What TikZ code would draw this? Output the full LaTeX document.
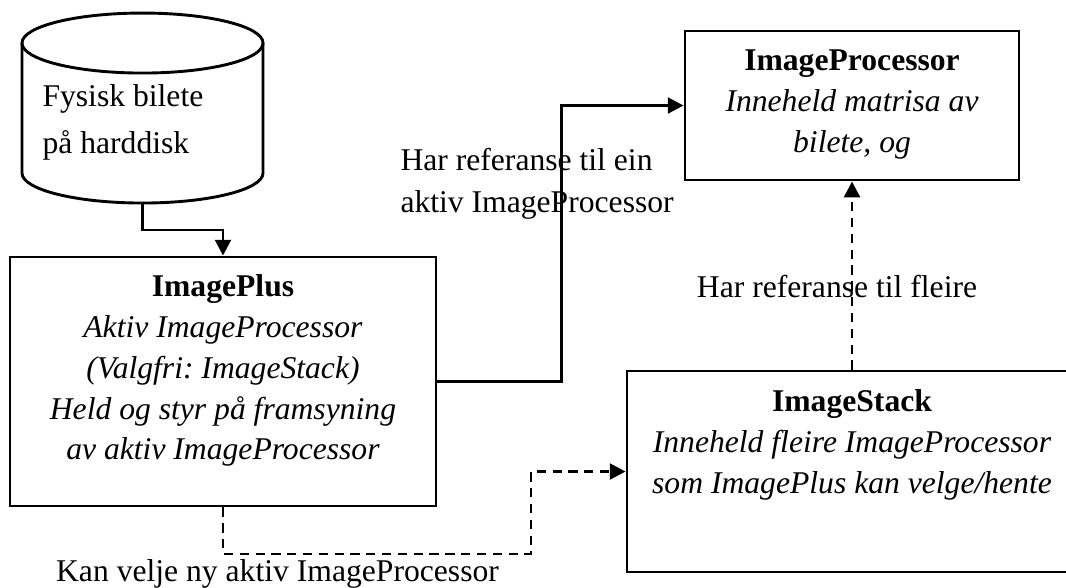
\documentclass[tikz,border=0pt]{standalone}
\usepackage{fontspec}
\setmainfont{Liberation Serif}
\frenchspacing
\usetikzlibrary{positioning,arrows.meta}

\begin{document}
\begin{tikzpicture}[font=\fontsize{12}{15.5}\selectfont,
  box/.style={draw, line width=1.1pt, inner sep=0pt},
  boxtext/.style={align=center, inner sep=0pt},
  conn/.style={line width=1.1pt, -{Triangle[length=6pt,width=6pt]}},
  dashconn/.style={conn, dash pattern=on 3.5pt off 2.5pt}]
  \useasboundingbox (0,0) rectangle (14.213,7.827);
  % the disk
  \draw[line width=1.1pt] (0.293,7.253) -- (0.293,5.52) arc[start angle=180, end angle=360, x radius=1.607, y radius=0.4] -- (3.507,7.253);
  \draw[line width=1.1pt] (1.9,7.253) ellipse [x radius=1.607, y radius=0.4];
  \node[anchor=north west, align=left, inner sep=0pt, font=\fontsize{12}{17.8}\selectfont] (disk) at (0.56,6.707) {Fysisk bilete\\på harddisk};
  \coordinate (diskbot) at (1.9,5.12);
%
  \node[box, minimum width=5.68cm, minimum height=3.32cm] (plus) at (2.973,2.74) {};
  \node[boxtext, below=7pt of plus.north] (plustxt) {\textbf{ImagePlus}\\\textit{Aktiv ImageProcessor}\\\textit{(Valgfri: ImageStack)}\\\textit{Held og styr på framsyning}\\\textit{av aktiv ImageProcessor}};
  \node[box, minimum width=4.453cm, minimum height=1.987cm] (proc) at (11.36,6.42) {};
  \node[boxtext, below=7.5pt of proc.north] (proctxt) {\textbf{ImageProcessor}\\\textit{Inneheld matrisa av}\\\textit{bilete, og}};
  \node[box, minimum width=6cm, minimum height=2.68cm] (stack) at (11.36,1.54) {};
  \node[boxtext, below=7.5pt of stack.north] (stacktxt) {\textbf{ImageStack}\\\textit{Inneheld fleire ImageProcessor}\\\textit{som ImagePlus kan velge/hente}};
%
  \draw[conn] (diskbot) -- ++(0,-0.36) -| (plus.north);
  \draw[conn] (plus.east) -- ++(1.653,0) |- (proc.west);
  \draw[dashconn] (stack.north) -- (proc.south);
  \coordinate (bend) at (7.08,0.44);
  \draw[dashconn] (plus.south) |- (bend) |- (stack.west);
%
  \node[anchor=north west, align=left, inner sep=0pt, font=\fontsize{12}{15.9}\selectfont] (reflbl) at (5.333,5.853) {Har referanse til ein\\aktiv ImageProcessor};
  \node[anchor=base, inner sep=0pt] (fleirelbl) at (11.16,3.867) {Har referanse til fleire};
  \node[anchor=base, inner sep=0pt] (veljelbl) at (3.7,0.08) {Kan velje ny aktiv ImageProcessor};
\end{tikzpicture}
\end{document}
